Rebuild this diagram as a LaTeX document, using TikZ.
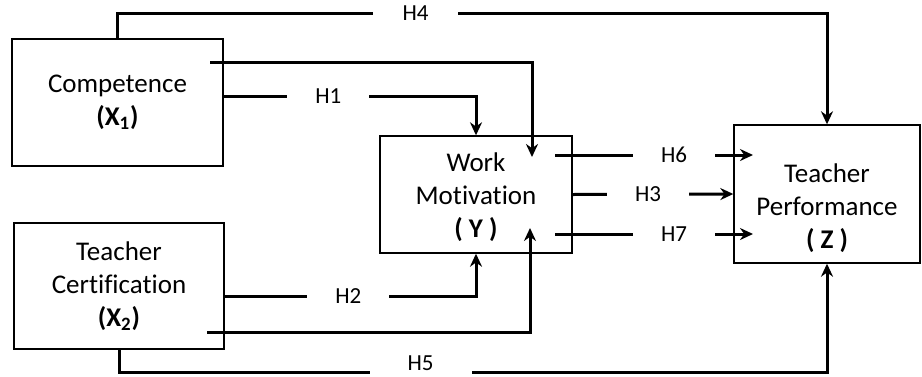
\documentclass[tikz,border=0pt]{standalone}
\usepackage{fontspec}
\setmainfont{Carlito}[Ligatures=NoCommon]
\usetikzlibrary{arrows.meta}

\begin{document}
\begin{tikzpicture}[x=0.5pt, y=-0.5pt, >={Stealth[length=6.5pt,width=6pt]},
    block/.style={rectangle, draw, line width=0.7pt, align=center, inner sep=0pt, font=\fontsize{13.5}{16.5}\selectfont},
    line/.style={draw, ->, line width=1.5pt},
    hyp/.style={fill=white, inner xsep=14pt, inner ysep=1pt, font=\fontsize{11.5}{13}\selectfont}]

    \useasboundingbox (0,0) rectangle (922,376);

    \node [block, minimum width=105.5pt, minimum height=63.5pt] (comp) at (117.5,102.5) {Competence \\ \textbf{(X\textsubscript{1})}};
    \node [block, minimum width=105pt, minimum height=63pt] (cert) at (119,286) {Teacher \\ Certification \\ \textbf{(X\textsubscript{2})}};
    \node [block, minimum width=96pt, minimum height=58.5pt] (motiv) at (476,194.5) {\raisebox{0pt}[\dimexpr\height+3.5pt\relax]{\begin{tabular}{@{}c@{}}Work \\ Motivation \\ \textbf{( Y )}\end{tabular}}};
    \node [block, minimum width=93pt, minimum height=69pt] (perf) at (827,194) {\raisebox{0pt}[\dimexpr\height+15pt\relax]{\begin{tabular}{@{}c@{}}Teacher \\ Performance \\ \textbf{( Z )}\end{tabular}}};

    % loose ends inside the boxes
    \coordinate (compout) at (210,62);
    \coordinate (motivin1) at (532,157);
    \coordinate (certout) at (207,332);
    \coordinate (motivin2) at (530,228);
    \coordinate (motivout6) at (555,155);
    \coordinate (perfin6) at (753,155);
    \coordinate (motivout7) at (555,234);
    \coordinate (perfin7) at (753,234);

    \path [line] (comp.north) -- ++(0,-25) -| node [hyp, pos=0.21, inner xsep=15pt] {H4} (perf.north);
    \path [line] (compout) -| (motivin1);
    \path [line] ([yshift=3.25pt]comp.east) -| node [hyp, pos=0.2075] {H1} (motiv.north);
    \path [line] ([yshift=-5pt]cert.east) -| node [hyp, pos=0.246] {H2} (motiv.south);
    \path [line] (certout) -| (motivin2);
    \path [line] (cert.south) -- ++(0,23) -| node [hyp, pos=0.213, inner xsep=19pt, inner ysep=0pt, text depth=3pt, yshift=3.5pt] {H5} (perf.south);

    \path [line] (motivout6) -- node [hyp, pos=0.601] {H6} (perfin6);
    \path [line] (motiv.east) -- node [hyp, pos=0.469] {H3} (perf.west);
    \path [line] (motivout7) -- node [hyp, pos=0.601] {H7} (perfin7);
\end{tikzpicture}
\end{document}
